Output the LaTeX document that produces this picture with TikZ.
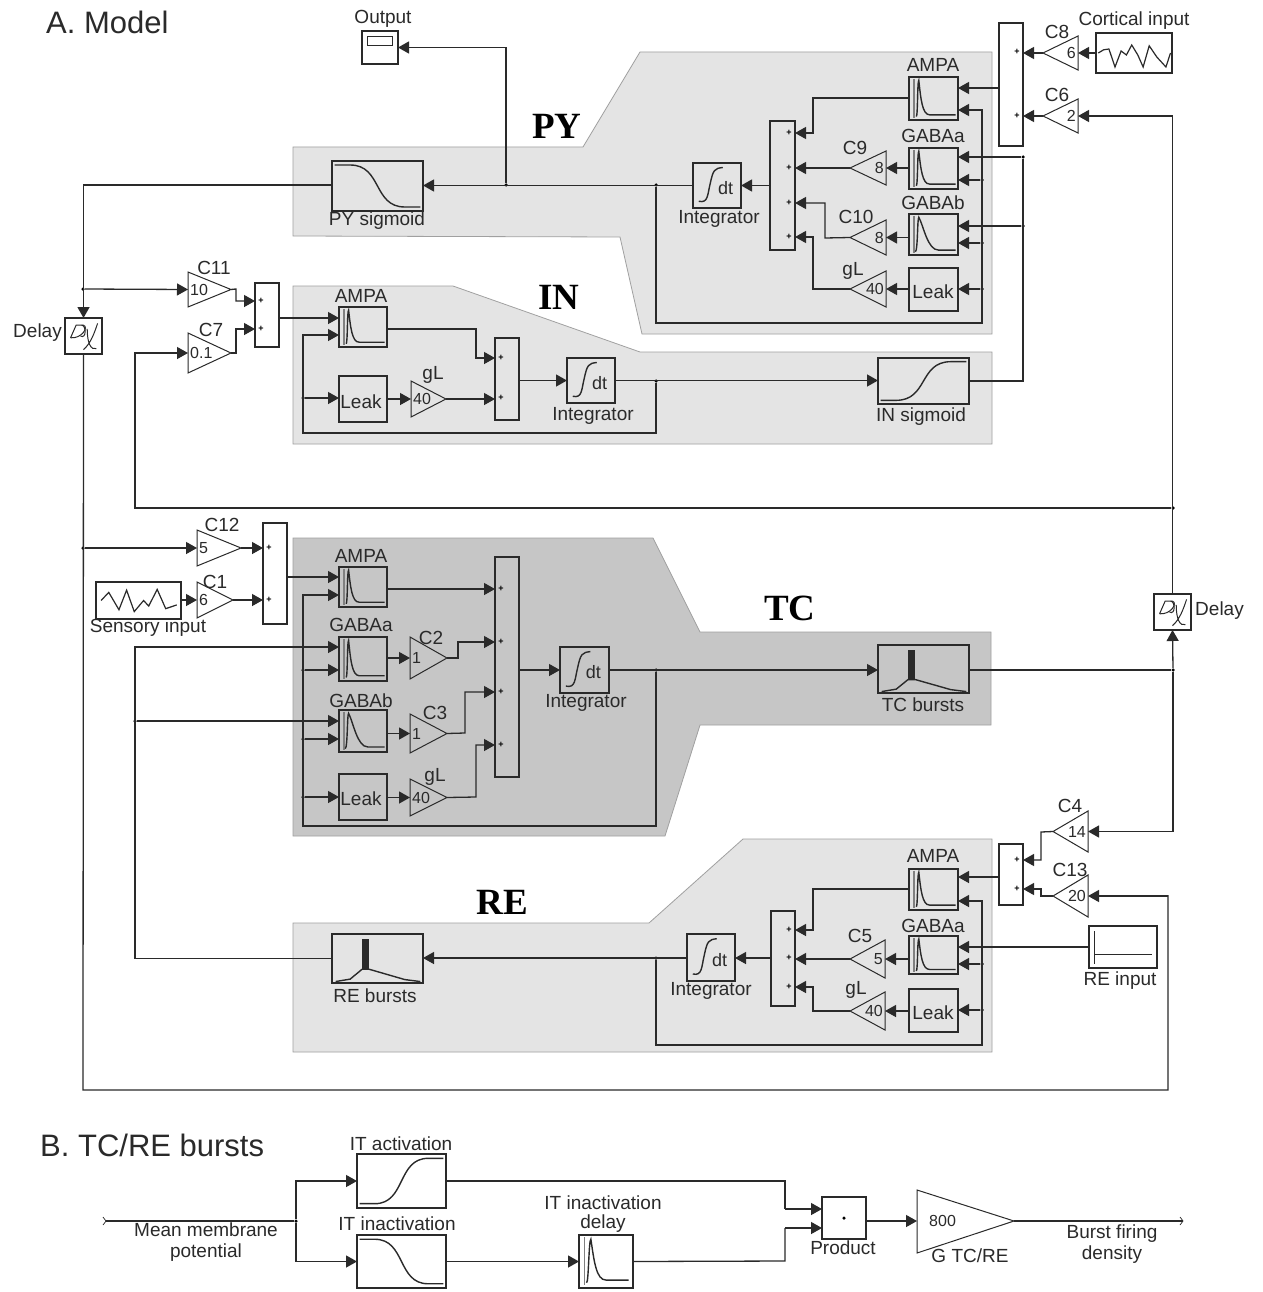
\documentclass[tikz,border=0pt]{standalone}
\usepackage{fontspec}
\setmainfont{Liberation Sans}
\newfontfamily\serifbold{Liberation Serif}
\usetikzlibrary{arrows.meta}
\definecolor{lightreg}{HTML}{E4E4E4}
\definecolor{darkreg}{HTML}{C6C6C6}
\definecolor{regedge}{HTML}{A0A0A0}
\definecolor{ink}{HTML}{2A2A2A}
\tikzset{
 blkbox/.style={draw=ink,line width=1.2pt,inner sep=0pt,outer sep=0pt},
 tribox/.style={draw=ink,line width=1pt},
 wire/.style={draw=ink,line width=1.3pt},
 arr/.style={wire,-{Triangle[length=11pt,width=12pt]}},
 curve/.style={draw=ink,line width=1.4pt},
 lab/.style={font=\fontsize{19}{20}\selectfont,text=ink,inner sep=0pt},
 val/.style={font=\fontsize{16}{16}\selectfont,text=ink,inner sep=0pt},
 title/.style={font=\fontsize{31}{32}\selectfont,text=ink,inner sep=0pt,anchor=west},
 pop/.style={font=\serifbold\bfseries\fontsize{37}{37}\selectfont,text=black,inner sep=0pt},
 plus/.style={font=\bfseries\fontsize{9}{9}\selectfont,text=black,inner sep=0pt},
 dotn/.style={circle,fill=black,inner sep=0pt,minimum size=3.5pt},
 lightpoly/.style={fill=lightreg,draw=regedge,line width=.8pt},
 darkpoly/.style={fill=darkreg,draw=regedge,line width=.8pt},
}
\newcommand\blk[5]{%
 \pgfmathsetmacro\bkw{#4-#2}\pgfmathsetmacro\bkh{#5-#3}%
 \pgfmathsetmacro\bkx{(#2+#4)/2}\pgfmathsetmacro\bky{(#3+#5)/2}%
 \node[blkbox,minimum width=\bkw pt,minimum height=\bkh pt] (#1) at (\bkx,\bky) {};}
\newcommand\icon[2]{\begin{scope}[shift={(#1.north west)},x=\bkw pt,y=-\bkh pt]#2\end{scope}}
\newcommand\triL[6]{% name tipx basex y1 y2 value (points left)
 \pgfmathsetmacro\tym{(#4+#5)/2}\pgfmathsetmacro\tvx{#3-2}%
 \coordinate (#1T) at (#2,\tym); \coordinate (#1B) at (#3,\tym);
 \draw[tribox] (#1T) -- (#3,#4) -- (#3,#5) -- cycle;
 \node[val,anchor=east] (#1V) at (\tvx,\tym) {#6};}
\newcommand\triR[6]{% name tipx basex y1 y2 value (points right)
 \pgfmathsetmacro\tym{(#4+#5)/2}\pgfmathsetmacro\tvx{#3+2}%
 \coordinate (#1T) at (#2,\tym); \coordinate (#1B) at (#3,\tym);
 \draw[tribox] (#1T) -- (#3,#4) -- (#3,#5) -- cycle;
 \node[val,anchor=west] (#1V) at (\tvx,\tym) {#6};}
\newcommand\dotat[3]{\node[dotn] (#1) at (#2,#3) {};}
\newcommand\crvA{\draw[curve,draw=gray] (.1,.04)--(.1,.95);\draw[curve] (.15,.92) .. controls (.18,.9) and (.17,.08) .. (.2,.08) .. controls (.24,.5) and (.27,.88) .. (.42,.88) -- (.95,.88);}
\newcommand\crvB{\draw[curve,draw=gray] (.1,.04)--(.1,.95);\draw[curve] (.13,.92) .. controls (.18,.9) and (.17,.08) .. (.2,.08) .. controls (.3,.3) and (.38,.88) .. (.6,.88) -- (.95,.88);}
\newcommand\crvSdown{\draw[curve] (.03,.08) -- (.2,.08) .. controls (.55,.08) and (.45,.92) .. (.8,.92) -- (.97,.92);}
\newcommand\crvSup{\draw[curve] (.03,.92) -- (.2,.92) .. controls (.55,.92) and (.45,.08) .. (.8,.08) -- (.97,.08);}
\newcommand\crvBurst{\fill[ink] (.33,.1) rectangle (.41,.72);\draw[curve] (.04,.97) -- (.2,.92) -- (.33,.72) -- (.41,.72) -- (.8,.93) -- (.97,.97);}
\newcommand\intblk[5]{\blk{#1}{#2}{#3}{#4}{#5}\icon{#1}{\draw[curve] (.12,.85) .. controls (.32,.9) and (.3,.7) .. (.36,.45) .. controls (.42,.15) and (.45,.12) .. (.62,.1);\node[val,font=\fontsize{18}{18}\selectfont] (#1dt) at (.68,.55) {dt};}}
\newcommand\delayblk[5]{\blk{#1}{#2}{#3}{#4}{#5}\icon{#1}{\draw[wire,line width=1pt] (.15,.55) -- (.3,.2) -- (.5,.2) .. controls (.65,.25) and (.45,.58) .. (.15,.55); \draw[wire,line width=1pt] (.45,.2) .. controls (.58,.2) and (.58,.6) .. (.42,.5) (.6,.3) .. controls (.6,.7) and (.7,.9) .. (.85,.85) (.5,.88) .. controls (.7,.7) and (.8,.4) .. (.88,.15);}}
\begin{document}
\begin{tikzpicture}[x=1pt,y=-1pt]
\useasboundingbox (0,0) rectangle (1262,1292);
\fill[white] (0,0) rectangle (1262,1292);
% ---- regions
\path[lightpoly] (293,147) -- (583,147) -- (640,52) -- (992,52) -- (992,334) -- (642,334) -- (620,237) -- (293,236) -- cycle;
\path[lightpoly] (293,286) -- (453,286) -- (640,352) -- (992,352) -- (992,444) -- (293,444) -- cycle;
\path[darkpoly] (293,538) -- (653,538) -- (700,632) -- (991,632) -- (991,725) -- (700,725) -- (665,836) -- (293,836) -- cycle;
\path[lightpoly] (293,923) -- (649,923) -- (743,839) -- (992,839) -- (992,1052) -- (293,1052) -- cycle;
% ---- titles
\node[title] (tA) at (46,22) {A. Model};
\node[title] (tB) at (40,1145) {B. TC/RE bursts};
\node[pop] (pPY) at (557,126) {PY};
\node[pop] (pIN) at (559,297) {IN};
\node[pop] (pTC) at (790,608) {TC};
\node[pop] (pRE) at (502,902) {RE};
% ---- PY
\blk{scope1}{362}{31}{398}{64}
\icon{scope1}{\draw[curve,line width=1.1pt] (.15,.18) rectangle (.85,.45);}
\node[lab] (lOut) at (383,19) {Output};
\blk{pyS}{332}{161}{423}{211}\icon{pyS}{\crvSdown}
\node[lab] (lpyS) at (377,221) {PY sigmoid};
\intblk{pyI}{693}{163}{741}{208}
\node[lab] (lpyI) at (719,219) {Integrator};
\blk{pySum}{770}{121}{795}{250}
\foreach \n/\yy in {a/133,b/168,c/203,d/237}{\node[plus] (pyP\n) at (789,\yy) {+};}
\blk{pyA}{909}{77}{958}{120}\icon{pyA}{\crvA}
\node[lab] (lpyA) at (933,65) {AMPA};
\blk{pyGa}{909}{148}{958}{189}\icon{pyGa}{\crvA}
\node[lab] (lpyGa) at (933,136) {GABAa};
\blk{pyGb}{909}{214}{958}{255}\icon{pyGb}{\crvB}
\node[lab] (lpyGb) at (933,203) {GABAb};
\blk{pyL}{909}{268}{958}{311}
\node[lab] (lpyL) at (933,292) {Leak};
\triL{c9}{850}{886}{151}{185}{8}
\node[lab] (lc9) at (855,148) {C9};
\triL{c10}{850}{886}{220}{255}{8}
\node[lab] (lc10) at (856,217) {C10};
\triL{pygL}{850}{886}{271}{307}{40}
\node[lab] (lpygL) at (853,271) {gL};
\blk{pyTop}{999}{23}{1023}{146}
\node[plus] (pyTa) at (1017,52) {+};\node[plus] (pyTb) at (1017,116) {+};
\triL{c8}{1043}{1078}{36}{70}{6}
\node[lab] (lc8) at (1057,32) {C8};
\triL{c6}{1043}{1078}{99}{133}{2}
\node[lab] (lc6) at (1057,95) {C6};
\blk{cort}{1096}{33}{1172}{73}
\icon{cort}{\draw[curve,line width=1.2pt] (.03,.5) -- (.1,.42) -- (.17,.4) -- (.25,.85) -- (.33,.45) -- (.4,.55) -- (.47,.3) -- (.55,.55) -- (.62,.85) -- (.7,.32) -- (.8,.6) -- (.92,.85) -- (.98,.5);}
\node[lab] (lcort) at (1134,21) {Cortical input};
% ---- IN
\blk{inSum}{255}{283}{279}{347}
\node[plus] (inPa) at (261,301) {+};\node[plus] (inPb) at (261,329) {+};
\triR{c11}{231}{188}{272}{307}{10}
\node[lab] (lc11) at (214,268) {C11};
\triR{c7}{231}{188}{333}{373}{0.1}
\node[lab] (lc7) at (211,330) {C7};
\blk{inA}{339}{307}{387}{347}\icon{inA}{\crvA}
\node[lab] (linA) at (361,296) {AMPA};
\blk{inL}{339}{376}{387}{422}
\node[lab] (linL) at (361,402) {Leak};
\triR{ingL}{446}{411}{381}{417}{40}
\node[lab] (lingL) at (433,375) {gL};
\blk{inSum2}{495}{338}{519}{420}
\node[plus] (inQa) at (501,358) {+};\node[plus] (inQb) at (501,398) {+};
\intblk{inI}{567}{358}{615}{403}
\node[lab] (linI) at (593,416) {Integrator};
\blk{inS}{878}{358}{969}{404}\icon{inS}{\crvSup}
\node[lab] (linS) at (921,417) {IN sigmoid};
% ---- delays
\delayblk{d1}{65}{318}{102}{354}
\node[lab,anchor=east] (ld1) at (62,333) {Delay};
\delayblk{d2}{1154}{594}{1191}{630}
\node[lab,anchor=west] (ld2) at (1195,611) {Delay};
% ---- TC
\triR{c12}{241}{197}{530}{566}{5}
\node[lab] (lc12) at (222,525) {C12};
\triR{c1}{233}{197}{582}{618}{6}
\node[lab] (lc1) at (215,582) {C1};
\blk{sens}{96}{582}{181}{619}
\icon{sens}{\draw[curve,line width=1.2pt] (.06,.5) -- (.15,.28) -- (.27,.75) -- (.36,.22) -- (.45,.8) -- (.56,.5) -- (.62,.65) -- (.72,.2) -- (.82,.72) -- (.95,.62);}
\node[lab] (lsens) at (148,628) {Sensory input};
\blk{tcSum0}{263}{523}{287}{624}
\node[plus] (tcPa) at (269,548) {+};\node[plus] (tcPb) at (269,600) {+};
\blk{tcA}{339}{567}{387}{607}\icon{tcA}{\crvA}
\node[lab] (ltcA) at (361,556) {AMPA};
\blk{tcGa}{339}{637}{387}{681}\icon{tcGa}{\crvA}
\node[lab] (ltcGa) at (361,625) {GABAa};
\blk{tcGb}{339}{710}{387}{752}\icon{tcGb}{\crvB}
\node[lab] (ltcGb) at (361,701) {GABAb};
\blk{tcL}{339}{774}{387}{820}
\node[lab] (ltcL) at (361,799) {Leak};
\triR{c2}{447}{410}{637}{679}{1}
\node[lab] (lc2) at (431,638) {C2};
\triR{c3}{447}{410}{714}{753}{1}
\node[lab] (lc3) at (435,713) {C3};
\triR{tcgL}{447}{410}{779}{816}{40}
\node[lab] (ltcgL) at (435,777) {gL};
\blk{tcSum}{495}{557}{519}{777}
\foreach \n/\yy in {a/589,b/642,c/692,d/745}{\node[plus] (tcQ\n) at (501,\yy) {+};}
\intblk{tcI}{560}{647}{609}{693}
\node[lab] (ltcI) at (586,703) {Integrator};
\blk{tcB}{878}{645}{969}{693}\icon{tcB}{\crvBurst}
\node[lab] (ltcB) at (923,705) {TC bursts};
% ---- RE
\blk{reB}{332}{934}{423}{983}\icon{reB}{\crvBurst}
\node[lab] (lreB) at (375,996) {RE bursts};
\intblk{reI}{687}{934}{735}{981}
\node[lab] (lreI) at (711,991) {Integrator};
\blk{reSum}{771}{911}{795}{1006}
\foreach \n/\yy in {a/930,b/958,c/987}{\node[plus] (reP\n) at (789,\yy) {+};}
\blk{reA}{909}{869}{958}{910}\icon{reA}{\crvA}
\node[lab] (lreA) at (933,856) {AMPA};
\blk{reGa}{909}{936}{958}{974}\icon{reGa}{\crvA}
\node[lab] (lreGa) at (933,926) {GABAa};
\blk{reL}{909}{989}{958}{1032}
\node[lab] (lreL) at (933,1013) {Leak};
\triL{c5}{850}{885}{940}{978}{5}
\node[lab] (lc5) at (860,936) {C5};
\triL{regL}{850}{885}{992}{1030}{40}
\node[lab] (lregL) at (856,990) {gL};
\blk{reTop}{999}{844}{1023}{905}
\node[plus] (reTa) at (1017,860) {+};\node[plus] (reTb) at (1017,889) {+};
\triL{c4}{1053}{1088}{811}{852}{14}
\node[lab] (lc4) at (1070,806) {C4};
\triL{c13}{1053}{1088}{875}{917}{20}
\node[lab] (lc13) at (1070,870) {C13};
\blk{reIn}{1089}{926}{1157}{968}
\icon{reIn}{\draw[curve] (.08,.12) -- (.08,.9);\draw[curve] (.08,.68) -- (.92,.68);}
\node[lab] (lreIn) at (1120,981) {RE input};
% ---- junction dots
\dotat{jPyOut}{506}{185}\dotat{jPyI}{656}{185}
\dotat{jGa}{1023}{157}\dotat{jGb}{1023}{226}
\dotat{jB1}{982}{180}\dotat{jB2}{982}{243}\dotat{jB3}{982}{289}
\dotat{jC11}{83}{289}\dotat{jC12}{83}{548}
\dotat{jInL}{303}{398}\dotat{jInI}{656}{381}
\dotat{jFb}{1173}{508}\dotat{jTcO}{1173}{670}
\dotat{jTcI}{656}{670}
\dotat{jGa2}{303}{670}\dotat{jGb2}{303}{739}\dotat{jL2}{303}{797}\dotat{jRB}{135}{721}
\dotat{jReI}{656}{958}\dotat{jR1}{982}{964}\dotat{jR2}{982}{1010}
% ---- PY wires
\draw[arr] (pyTop.west |- 0,88) -- (pyA.east |- 0,88);
\draw[arr] (jPyI) |- (982,323) -- (982,110) -- (pyA.east |- 0,110);
\draw[arr] (jB1) -- (pyGa.east |- jB1);
\draw[arr] (jB2) -- (pyGb.east |- jB2);
\draw[arr] (jB3) -- (pyL.east |- jB3);
\draw[arr] (jGa) -- (pyGa.east |- jGa);
\draw[arr] (jGb) -- (pyGb.east |- jGb);
\draw[arr] (pyA.west |- 0,98) -- (813,98) -- (813,133) -- (pySum.east |- 0,133);
\draw[arr] (pyGa.west |- c9B) -- (c9B);
\draw[arr] (pyGb.west |- c10B) -- (c10B);
\draw[arr] (pyL.west |- pygLB) -- (pygLB);
\draw[arr] (c9T) -- (pySum.east |- c9T);
\draw[arr] (c10T) -- (825,238) -- (825,203) -- (pySum.east |- 0,203);
\draw[arr] (pygLT) -- (813,289) -- (813,237) -- (pySum.east |- 0,237);
\draw[arr] (pySum.west |- pyI.east) -- (pyI.east);
\draw[arr] (pyI.west) -- (pyS.east |- pyI.west);
\draw[arr] (jPyOut) |- (scope1.east);
\draw[arr] (c8T) -- (pyTop.east |- c8T);
\draw[arr] (c6T) -- (pyTop.east |- c6T);
\draw[arr] (cort.west |- c8B) -- (c8B);
\draw[arr] (d2.north) |- (c6B);
\draw[arr] (pyS.west |- 0,185) -| (d1.north);
\draw[arr] (jC11) -- (c11B);
% ---- IN wires
\draw[wire] (inS.east) -- (jGa.center |- inS.east) -- (jGa);
\draw[arr] (c11T) -- (236,289) -- (236,301) -- (inSum.west |- 0,301);
\draw[arr] (c7T) -- (236,353) -- (236,329) -- (inSum.west |- 0,329);
\draw[arr] (inSum.east |- 0,318) -- (inA.west |- 0,318);
\draw[arr] (jInI) |- (303,433) -- (303,335) -- (inA.west |- 0,335);
\draw[arr] (jInL) -- (inL.west |- jInL);
\draw[arr] (inL.east |- ingLB) -- (ingLB);
\draw[arr] (ingLT) -- (inSum2.west |- ingLT);
\draw[arr] (inA.east |- 0,329) -- (476,329) -- (476,358) -- (inSum2.west |- 0,358);
\draw[arr] (inSum2.east |- inI.west) -- (inI.west);
\draw[arr] (inI.east) -- (inS.west |- inI.east);
\draw[arr] (jFb) -| (135,353) -- (c7B);
% ---- TC wires
\draw[wire] (d1.south) -- (83,1090) -- (1168,1090) -- (1168,895);
\draw[arr] (jC12) -- (c12B);
\draw[arr] (sens.east |- c1B) -- (c1B);
\draw[arr] (c12T) -- (tcSum0.west |- c12T);
\draw[arr] (c1T) -- (tcSum0.west |- c1T);
\draw[arr] (tcSum0.east |- 0,577) -- (tcA.west |- 0,577);
\draw[arr] (jTcI) |- (303,826) -- (303,595) -- (tcA.west |- 0,595);
\draw[arr] (jGa2) -- (tcGa.west |- jGa2);
\draw[arr] (jGb2) -- (tcGb.west |- jGb2);
\draw[arr] (jL2) -- (tcL.west |- jL2);
\draw[arr] (reB.west) -| (135,647) -- (tcGa.west |- 0,647);
\draw[arr] (jRB) -- (tcGb.west |- jRB);
\draw[arr] (tcA.east |- 0,589) -- (tcSum.west |- 0,589);
\draw[arr] (tcGa.east |- c2B) -- (c2B);
\draw[arr] (tcGb.east |- c3B) -- (c3B);
\draw[arr] (tcL.east |- tcgLB) -- (tcgLB);
\draw[arr] (c2T) -- (458,658) -- (458,642) -- (tcSum.west |- 0,642);
\draw[arr] (c3T) -- (465,733) -- (465,692) -- (tcSum.west |- 0,692);
\draw[arr] (tcgLT) -- (476,797) -- (476,745) -- (tcSum.west |- 0,745);
\draw[arr] (tcSum.east |- tcI.west) -- (tcI.west);
\draw[arr] (tcI.east) -- (tcB.west |- tcI.east);
\draw[wire] (tcB.east |- jTcO) -- (jTcO);
\draw[arr] (jTcO) -- (d2.south);
% ---- RE wires
\draw[arr] (jTcO) |- (c4B);
\draw[arr] (c4T) -- (1041,832) -- (1041,860) -- (reTop.east |- 0,860);
\draw[arr] (c13T) -- (1041,896) -- (1041,889) -- (reTop.east |- 0,889);
\draw[arr] (1168,896) -- (c13B);
\draw[arr] (reTop.west |- 0,877) -- (reA.east |- 0,877);
\draw[arr] (jReI) |- (982,1045) -- (982,901) -- (reA.east |- 0,901);
\draw[arr] (jR1) -- (reGa.east |- jR1);
\draw[arr] (jR2) -- (reL.east |- jR2);
\draw[arr] (reIn.west |- 0,947) -- (reGa.east |- 0,947);
\draw[arr] (reA.west |- 0,889) -- (813,889) -- (813,930) -- (reSum.east |- 0,930);
\draw[arr] (reGa.west |- c5B) -- (c5B);
\draw[arr] (reL.west |- regLB) -- (regLB);
\draw[arr] (c5T) -- (reSum.east |- c5T);
\draw[arr] (regLT) -- (813,1011) -- (813,987) -- (reSum.east |- 0,987);
\draw[arr] (reSum.west |- 0,958) -- (reI.east |- 0,958);
\draw[arr] (reI.west |- 0,958) -- (reB.east |- 0,958);
% ---- Section B
\blk{itA}{357}{1154}{446}{1208}\icon{itA}{\crvSup}
\node[lab] (litA) at (401,1144) {IT activation};
\blk{itI}{357}{1235}{446}{1288}\icon{itI}{\crvSdown}
\node[lab] (litI) at (397,1224) {IT inactivation};
\blk{itD}{579}{1235}{633}{1288}\icon{itD}{\draw[curve,draw=gray] (.1,.04)--(.1,.95);\draw[curve] (.14,.9) .. controls (.18,.9) and (.18,.08) .. (.22,.08) .. controls (.28,.5) and (.32,.85) .. (.5,.85) -- (.92,.85);}
\node[lab] (litD) at (603,1203) {IT inactivation};
\node[lab] (litD2) at (603,1224) {delay};
\blk{prod}{822}{1197}{866}{1239}
\node[dotn,minimum size=3.5pt] (prodDot) at (prod.center) {};
\node[lab] (lprod) at (843,1248) {Product};
\coordinate (gT) at (1014,1221);\coordinate (gB) at (917,1221);
\draw[tribox] (gT) -- (917,1190) -- (917,1253) -- cycle;
\node[val,anchor=west,font=\fontsize{16}{16}\selectfont] (gV) at (929,1221) {800};
\node[lab] (lg) at (970,1256) {G TC/RE};
\node[lab,align=center] (lmem) at (206,1242) {Mean membrane\\[1pt]potential};
\node[lab,align=center] (lbur) at (1112,1244) {Burst firing\\[1pt]density};
\coordinate (bIn) at (106,1221);\coordinate (bOut) at (1183,1221);
\dotat{jB}{296}{1221}
\draw[wire] (bIn) -- (jB);
\draw[wire,line width=.7pt] (103,1217) -- (bIn) -- (103,1225);
\draw[arr] (jB) |- (itA.west);
\draw[arr] (jB) |- (itI.west);
\draw[wire] (itA.east) -- (785,1181) -- (785,1209);
\draw[arr] (785,1209) -- (prod.west |- 0,1209);
\draw[arr] (itI.east) -- (itD.west |- itI.east);
\draw[wire] (itD.east) -- (785,1261) -- (785,1228);
\draw[arr] (785,1228) -- (prod.west |- 0,1228);
\draw[arr] (prod.east |- gB) -- (gB);
\draw[wire] (gT) -- (bOut);
\draw[wire,line width=.7pt] (1180,1217) -- (bOut) -- (1180,1225);
\end{tikzpicture}
\end{document}
